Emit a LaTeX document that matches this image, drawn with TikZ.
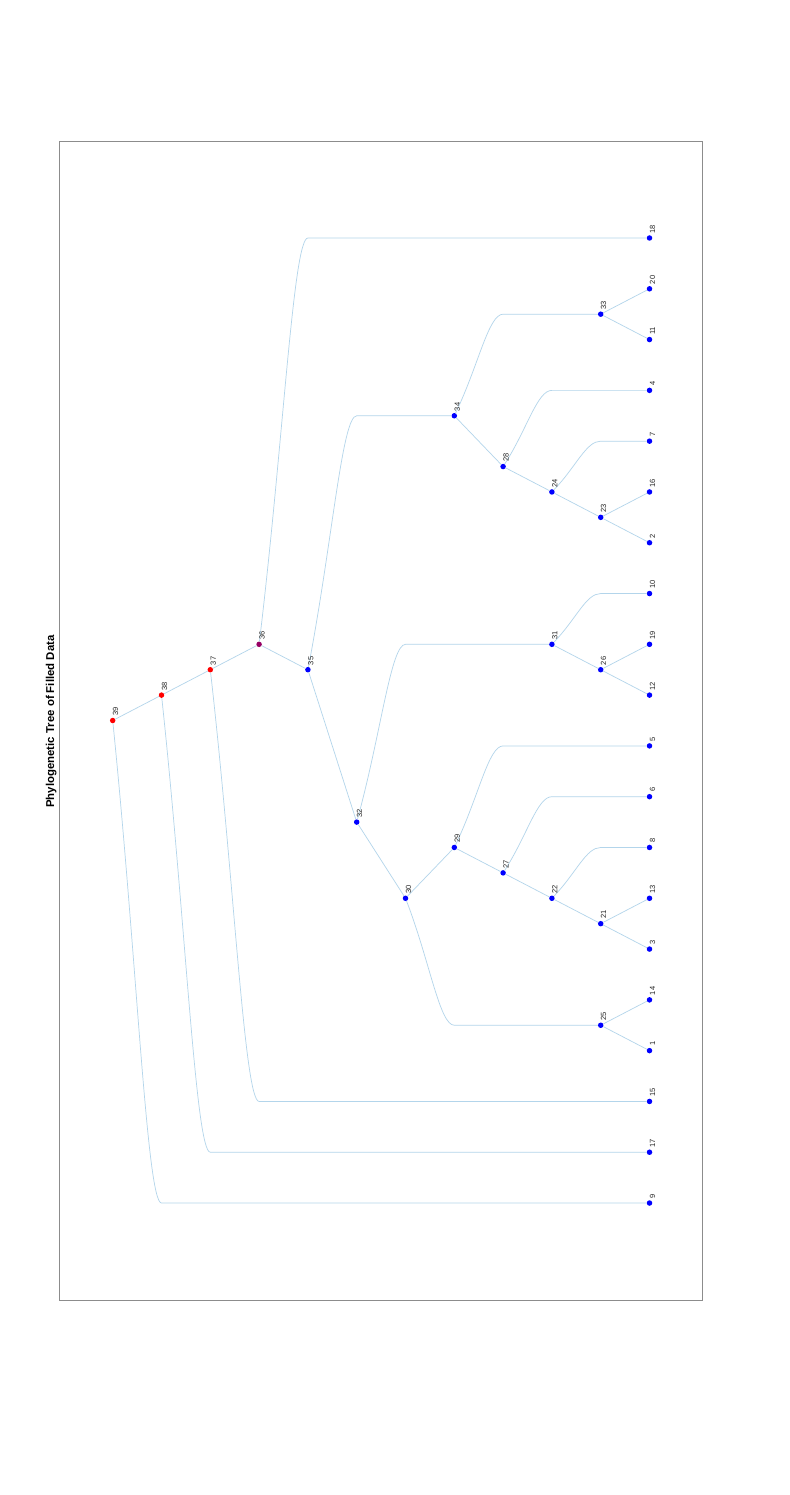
\documentclass[tikz,border=0pt]{standalone}
\usepackage{fontspec}
\setmainfont{Liberation Sans}
\usetikzlibrary{calc}
\definecolor{edgec}{RGB}{179,213,235}
\definecolor{nblue}{RGB}{0,0,255}
\definecolor{nred}{RGB}{255,0,0}
\definecolor{npurple}{RGB}{150,0,100}
\definecolor{framec}{RGB}{140,140,140}
\definecolor{labc}{RGB}{38,38,38}
\begin{document}
\begin{tikzpicture}[
  dot/.style={circle, inner sep=0pt, minimum size=5.5pt},
  edge/.style={draw=edgec, line width=0.7pt},
  lab/.style={rotate=90, anchor=base west, inner sep=0pt, font=\fontsize{7.5}{9}\selectfont, text=labc},
  ttl/.style={rotate=90, anchor=base, inner sep=0pt, font=\bfseries\fontsize{11.4}{13}\selectfont, text=black}
]
\useasboundingbox (0,0) rectangle (789pt,-1495pt);
\fill[white] (0,0) rectangle (789pt,-1495pt);
\draw[framec, line width=0.8pt] (59.5pt,-141.5pt) rectangle (702.5pt,-1300.5pt);
\node[ttl] (title) at (54pt,-721.5pt) {Phylogenetic Tree of Filled Data};
\begin{scope}[x=48.8pt, y=-50.79pt, shift={(112.7pt,-238pt)}]
  % internal nodes
  \foreach \n/\k/\i/\c in {39/0/9.5/nred, 38/1/9/nred, 37/2/8.5/nred, 36/3/8/npurple,
      35/4/8.5/nblue, 32/5/11.5/nblue, 30/6/13/nblue, 29/7/12/nblue, 27/8/12.5/nblue,
      22/9/13/nblue, 21/10/13.5/nblue, 25/10/15.5/nblue, 34/7/3.5/nblue, 28/8/4.5/nblue,
      24/9/5/nblue, 23/10/5.5/nblue, 33/10/1.5/nblue, 31/9/8/nblue, 26/10/8.5/nblue}
    \node[dot, fill=\c] (n\n) at (\k,\i) {};
  % leaves
  \foreach \n/\i in {18/0, 20/1, 11/2, 4/3, 7/4, 16/5, 2/6, 10/7, 19/8, 12/9, 5/10,
      6/11, 8/12, 13/13, 3/14, 14/15, 1/16, 15/17, 17/18, 9/19}
    \node[dot, fill=nblue] (n\n) at (11,\i) {};
  % bend points of long edges
  \foreach \t/\k/\i in {9/1/19, 17/2/18, 15/3/17, 18/4/0, 34/5/3.5, 31/6/8, 25/7/15.5,
      5/8/10, 6/9/11, 8/10/12, 33/8/1.5, 4/9/3, 7/10/4, 10/10/7}
    \coordinate (c\t) at (\k,\i);
  % long edges
  \foreach \p/\t in {39/9, 38/17, 37/15, 36/18, 35/34, 32/31, 30/25, 29/5, 27/6, 22/8,
      34/33, 28/4, 24/7, 31/10}
    \draw[edge] (n\p) .. controls ($(n\p)!0.5!(c\t)$) and ($(c\t)+(-0.3,0)$) .. (c\t) -- (n\t);
  % short edges
  \foreach \p/\t in {39/38, 38/37, 37/36, 36/35, 35/32, 32/30, 30/29, 29/27, 27/22, 22/21,
      21/13, 21/3, 25/14, 25/1, 31/26, 26/19, 26/12, 34/28, 28/24, 24/23, 23/16, 23/2,
      33/20, 33/11}
    \draw[edge] (n\p) -- (n\t);
  % labels
  \foreach \n in {39,38,37,36,35,34,33,32,31,30,29,28,27,26,25,24,23,22,21,
      20,19,18,17,16,15,14,13,12,11,10,9,8,7,6,5,4,3,2,1}
    \node[lab] (l\n) at ($(n\n)+(5.5pt,4.5pt)$) {\n};
\end{scope}
\end{tikzpicture}
\end{document}
